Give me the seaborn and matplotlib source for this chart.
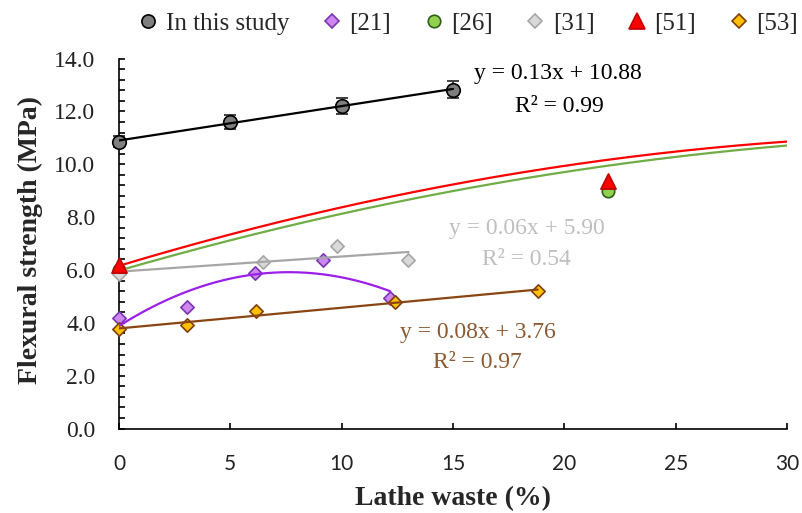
import numpy as np
import pandas as pd
import matplotlib
matplotlib.use("Agg")
import matplotlib.pyplot as plt
from matplotlib.lines import Line2D
from matplotlib.ticker import MultipleLocator, FormatStrFormatter
import seaborn as sns

# ---------------- data ----------------
study_x = [0, 5, 10, 15]
study_y = [10.86, 11.60, 12.22, 12.82]
study_err = [0.20, 0.28, 0.30, 0.32]

ref21_x = [0, 3.07, 6.1, 9.17, 12.17]
ref21_y = [4.17, 4.58, 5.90, 6.36, 4.92]

ref26_x = [0, 21.97]
ref26_y = [6.00, 8.97]

ref31_x = [0, 6.48, 9.8, 13.0]
ref31_y = [5.83, 6.31, 6.92, 6.36]

ref51_x = [0, 21.95]
ref51_y = [6.20, 9.35]

ref53_x = [0, 3.07, 6.15, 12.4, 18.8]
ref53_y = [3.76, 3.91, 4.45, 4.77, 5.21]

# trend curves of [26] and [51]
curve51_x = [0, 7.7, 15.0, 21.9, 30.0]
curve51_y = [6.18, 7.85, 9.29, 10.16, 10.85]
curve26_x = [0, 7.7, 15.0, 21.9, 30.0]
curve26_y = [6.00, 7.62, 9.01, 9.97, 10.69]

legend_labels = ["In this study", "[21]", "[26]", "[31]", "[51]", "[53]"]
eq_study = ["y = 0.13x + 10.88", "R² = 0.99"]
eq_31 = ["y = 0.06x + 5.90", "R² = 0.54"]
eq_53 = ["y = 0.08x + 3.76", "R² = 0.97"]

# ---------------- styling ----------------
sns.set_theme(style="white")
plt.rcParams["font.family"] = ["Liberation Serif", "DejaVu Serif"]

SERIF = ["Liberation Serif", "DejaVu Serif"]

c_study_fill, c_study_edge = "#7F7F7F", "#000000"
c21_fill, c21_edge, c21_line = "#CC88EE", "#7A35B0", "#9B1FE8"
c26_fill, c26_edge, c26_line = "#92D050", "#2E5E1A", "#70AD47"
c31_fill, c31_edge, c31_line = "#D9D9D9", "#A6A6A6", "#A6A6A6"
c51_fill, c51_edge, c51_line = "#FF0000", "#C00000", "#FF0000"
c53_fill, c53_edge, c53_line = "#FFC000", "#7F3F0A", "#8B4513"
c53_text = "#8C5A32"
c31_text = "#BFBFBF"

fig = plt.figure(figsize=(8.03, 5.13), dpi=100)
ax = fig.add_axes([0.1482, 0.1647, 0.8319, 0.7212])


def fit_line(xs, ys, deg, x0, x1):
    coef = np.polyfit(xs, ys, deg)
    xx = np.linspace(x0, x1, 200)
    return pd.DataFrame({"x": xx, "y": np.polyval(coef, xx)})


# ---------------- trend lines ----------------
lw = 1.6
d = fit_line(curve51_x, curve51_y, 2, 0, 30)
sns.lineplot(data=d, x="x", y="y", color=c51_line, lw=lw, ax=ax, zorder=4, sort=False)
d = fit_line(curve26_x, curve26_y, 2, 0, 30)
sns.lineplot(data=d, x="x", y="y", color=c26_line, lw=lw, ax=ax, zorder=4, sort=False)
d = fit_line(ref31_x, ref31_y, 1, 0, max(ref31_x))
sns.lineplot(data=d, x="x", y="y", color=c31_line, lw=lw, ax=ax, zorder=4, sort=False)
d = fit_line(ref21_x, ref21_y, 2, 0, max(ref21_x))
sns.lineplot(data=d, x="x", y="y", color=c21_line, lw=lw, ax=ax, zorder=4, sort=False)
d = fit_line(ref53_x, ref53_y, 1, 0, max(ref53_x))
sns.lineplot(data=d, x="x", y="y", color=c53_line, lw=lw, ax=ax, zorder=4, sort=False)
d = fit_line(study_x, study_y, 1, 0, max(study_x))
sns.lineplot(data=d, x="x", y="y", color="black", lw=lw, ax=ax, zorder=6, sort=False)

# ---------------- markers ----------------
mk = dict(ax=ax, clip_on=False, linewidth=1.2, legend=False)
sns.scatterplot(x=ref26_x, y=ref26_y, marker="o", s=80, color=c26_fill, edgecolor=c26_edge, zorder=3, **mk)
sns.scatterplot(x=ref31_x, y=ref31_y, marker="D", s=46, color=c31_fill, edgecolor=c31_edge, zorder=3, **mk)
sns.scatterplot(x=ref21_x, y=ref21_y, marker="D", s=46, color=c21_fill, edgecolor=c21_edge, zorder=3, **mk)
sns.scatterplot(x=ref53_x, y=ref53_y, marker="D", s=46, color=c53_fill, edgecolor=c53_edge, zorder=3.5, **mk)
sns.scatterplot(x=ref51_x, y=ref51_y, marker="^", s=120, color=c51_fill, edgecolor=c51_edge, zorder=5, **mk)

ax.errorbar(study_x, study_y, yerr=study_err, fmt="none", ecolor="#404040",
            elinewidth=1.4, capsize=4, capthick=1.4, zorder=5, clip_on=False)
sns.scatterplot(x=study_x, y=study_y, marker="o", s=95, color=c_study_fill,
                edgecolor=c_study_edge, zorder=5.5, **mk)

# ---------------- equations ----------------
eq_fs = 17
ax.text(19.7, 13.44, eq_study[0], ha="center", va="center", fontsize=eq_fs, color="black", family=SERIF)
ax.text(19.76, 12.2, eq_study[1], ha="center", va="center", fontsize=eq_fs, color="black", family=SERIF)
ax.text(18.3, 7.58, eq_31[0], ha="center", va="center", fontsize=eq_fs, color=c31_text, family=SERIF)
ax.text(18.3, 6.4, eq_31[1], ha="center", va="center", fontsize=eq_fs, color=c31_text, family=SERIF)
ax.text(16.1, 3.62, eq_53[0], ha="center", va="center", fontsize=eq_fs, color=c53_text, family=SERIF)
ax.text(16.1, 2.5, eq_53[1], ha="center", va="center", fontsize=eq_fs, color=c53_text, family=SERIF)

# ---------------- axes ----------------
ax.set_xlim(0, 30)
ax.set_ylim(0, 14)
ax.xaxis.set_major_locator(MultipleLocator(5))
ax.yaxis.set_major_locator(MultipleLocator(2))
ax.yaxis.set_minor_locator(MultipleLocator(0.4))
ax.yaxis.set_major_formatter(FormatStrFormatter("%.1f"))

for side in ["top", "right"]:
    ax.spines[side].set_visible(False)
for side in ["left", "bottom"]:
    ax.spines[side].set_color("black")
    ax.spines[side].set_linewidth(1.2)

ax.tick_params(axis="y", which="both", direction="in", length=4, width=1.2,
               color="black", left=True, pad=17)
ax.tick_params(axis="x", which="major", direction="in", length=4, width=1.2,
               color="black", bottom=True, pad=18)
for lab in ax.get_yticklabels():
    lab.set_fontfamily(SERIF)
    lab.set_fontsize(17)
    lab.set_color("#222222")
for lab in ax.get_xticklabels():
    lab.set_fontfamily(["Lato", "DejaVu Sans"])
    lab.set_fontsize(15)
    lab.set_color("#222222")

ax.set_xlabel("Lathe waste (%)", fontsize=20, fontweight="bold", family=SERIF, va="center")
ax.set_ylabel("Flexural strength (MPa)", fontsize=20, fontweight="bold", family=SERIF, va="center")
ax.xaxis.set_label_coords(0.5, -0.19)
ax.yaxis.set_label_coords(-0.132, 0.51)
ax.grid(False)

# ---------------- legend ----------------
handles = [
    Line2D([], [], ls="none", marker="o", ms=9.5, mfc=c_study_fill, mec=c_study_edge, mew=1.2),
    Line2D([], [], ls="none", marker="D", ms=6.8, mfc=c21_fill, mec=c21_edge, mew=1.2),
    Line2D([], [], ls="none", marker="o", ms=9, mfc=c26_fill, mec=c26_edge, mew=1.2),
    Line2D([], [], ls="none", marker="D", ms=6.8, mfc=c31_fill, mec=c31_edge, mew=1.2),
    Line2D([], [], ls="none", marker="^", ms=11, mfc=c51_fill, mec=c51_edge, mew=1.2),
    Line2D([], [], ls="none", marker="D", ms=6.8, mfc=c53_fill, mec=c53_edge, mew=1.2),
]
fig.legend(handles, legend_labels, loc="center", bbox_to_anchor=(0.583, 0.954), ncol=6,
           frameon=False, prop={"family": SERIF, "size": 18}, handlelength=0.8,
           handletextpad=0.3, columnspacing=1.3, borderpad=0.1, borderaxespad=0.0)

fig.savefig("out.png", dpi=100)
